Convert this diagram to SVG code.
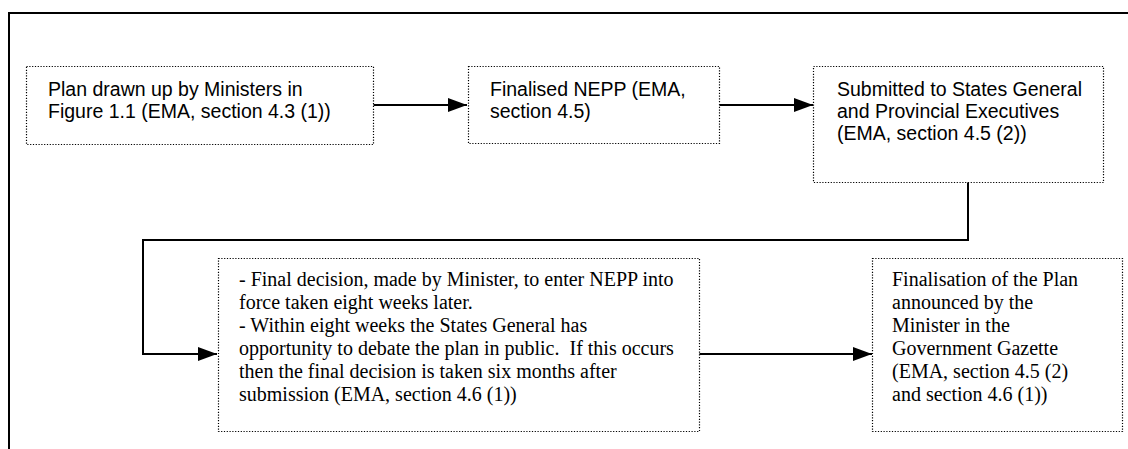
<svg xmlns="http://www.w3.org/2000/svg" width="1128" height="449" viewBox="0 0 1128 449">
<style>
.box{fill:#fff;stroke:#000;stroke-width:1.2;stroke-dasharray:1.2 1.6}
.conn{fill:none;stroke:#000;stroke-width:2}
.frame{fill:none;stroke:#000;stroke-width:2}
.sans{font-family:"Liberation Sans",Arial,sans-serif;font-size:19.5px;fill:#000}
.serif{font-family:"Liberation Serif","Times New Roman",serif;font-size:20px;fill:#000}
</style>
<defs>
<marker id="arr" markerUnits="userSpaceOnUse" markerWidth="20" markerHeight="16" refX="19" refY="7" orient="auto">
<path d="M0,0 L19,7 L0,14 Z" fill="#000"/>
</marker>
</defs>
<rect width="1128" height="449" fill="#fff"/>
<path class="frame" d="M9,449 V13 H1128"/>
<g id="connectors">
<path class="conn" d="M373,105 H467" marker-end="url(#arr)"/>
<path class="conn" d="M719,105 H813" marker-end="url(#arr)"/>
<path class="conn" d="M968,182 V240 H143 V354 H217" marker-end="url(#arr)"/>
<path class="conn" d="M699,354 H872" marker-end="url(#arr)"/>
</g>
<g id="node1">
<rect class="box" x="26.5" y="66.5" width="347" height="78"/>
<text class="sans" x="48" y="96">Plan drawn up by Ministers in</text>
<text class="sans" x="48" y="118">Figure 1.1 (EMA, section 4.3 (1))</text>
</g>
<g id="node2">
<rect class="box" x="468.5" y="66.5" width="251" height="77"/>
<text class="sans" x="490" y="96">Finalised NEPP (EMA,</text>
<text class="sans" x="490" y="118">section 4.5)</text>
</g>
<g id="node3">
<rect class="box" x="813.5" y="66.5" width="290" height="116"/>
<text class="sans" x="837" y="96">Submitted to States General</text>
<text class="sans" x="837" y="118">and Provincial Executives</text>
<text class="sans" x="837" y="140">(EMA, section 4.5 (2))</text>
</g>
<g id="node4">
<rect class="box" x="218.5" y="258.5" width="481" height="173"/>
<text class="serif" x="239" y="286">- Final decision, made by Minister, to enter NEPP into</text>
<text class="serif" x="239" y="309">force taken eight weeks later.</text>
<text class="serif" x="239" y="332">- Within eight weeks the States General has</text>
<text class="serif" x="239" y="355">opportunity to debate the plan in public.&#160; If this occurs</text>
<text class="serif" x="239" y="378">then the final decision is taken six months after</text>
<text class="serif" x="239" y="401">submission (EMA, section 4.6 (1))</text>
</g>
<g id="node5">
<rect class="box" x="872.5" y="258.5" width="250" height="173"/>
<text class="serif" x="892" y="286">Finalisation of the Plan</text>
<text class="serif" x="892" y="309">announced by the</text>
<text class="serif" x="892" y="332">Minister in the</text>
<text class="serif" x="892" y="355">Government Gazette</text>
<text class="serif" x="892" y="378">(EMA, section 4.5 (2)</text>
<text class="serif" x="892" y="401">and section 4.6 (1))</text>
</g>
</svg>
